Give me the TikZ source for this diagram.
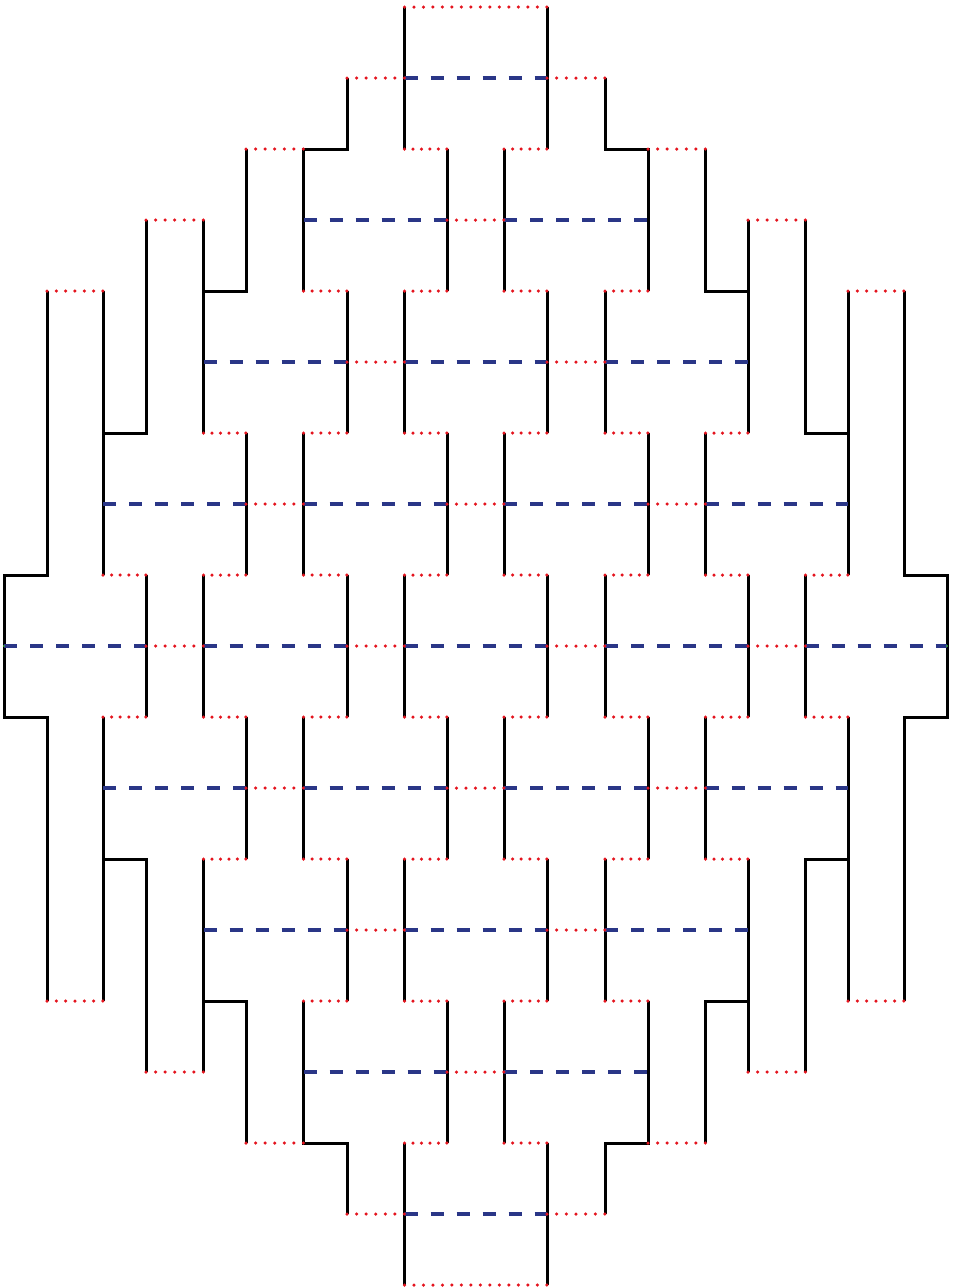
\documentclass[tikz,border=0pt]{standalone}
\definecolor{cpblue}{RGB}{42,54,135}
\definecolor{cpred}{RGB}{228,20,30}
\definecolor{cpgreen}{RGB}{60,170,60}
\begin{document}
\begin{tikzpicture}[x=0.5pt,y=-0.5pt,
  fold/.style={black,line width=1.5pt,line join=miter},
  valley/.style={cpblue,line width=1.6pt,dash pattern=on 6.6pt off 6.4pt},
  mnt/.style={cpred,line width=1.75pt,line cap=round}]
\useasboundingbox (0,0) rectangle (953,1287);
\foreach \x [count=\i from 0] in {4,47,103,146,203.5,246,303.5,347,404.5,447,504,547,605,648,705.5,748,805.5,848,904,947}{
  \expandafter\xdef\csname cpx\i\endcsname{\x}
  \foreach \j in {0,...,18}{\coordinate (p\i-\j) at (\x,{7+71*\j});}}
% black outline corners
\draw[fold] (p7-1)--(p7-2)--(p6-2)--(p6-4);
\draw[fold] (p5-2)--(p5-4)--(p4-4);
\draw[fold] (p3-3)--(p3-6)--(p2-6);
\draw[fold] (p1-4)--(p1-8)--(p0-8)--(p0-10)--(p1-10)--(p1-14);
\draw[fold] (p2-12)--(p3-12)--(p3-15);
\draw[fold] (p4-14)--(p5-14)--(p5-16);
\draw[fold] (p6-14)--(p6-16)--(p7-16)--(p7-17);
\draw[fold] (p12-1)--(p12-2)--(p13-2)--(p13-4);
\draw[fold] (p14-2)--(p14-4)--(p15-4);
\draw[fold] (p16-3)--(p16-6)--(p17-6);
\draw[fold] (p18-4)--(p18-8)--(p19-8)--(p19-10)--(p18-10)--(p18-14);
\draw[fold] (p17-12)--(p16-12)--(p16-15);
\draw[fold] (p15-14)--(p14-14)--(p14-16);
\draw[fold] (p13-14)--(p13-16)--(p12-16)--(p12-17);
% black verticals
\foreach \c/\a/\b in {2/4/8, 2/10/14, 3/8/10, 4/3/6, 4/8/10, 4/12/15, 5/6/8, 5/10/12, 6/6/8, 6/10/12,
  7/4/6, 7/8/10, 7/12/14, 8/0/2, 8/4/6, 8/8/10, 8/12/14, 8/16/18, 9/2/4, 9/6/8, 9/10/12, 9/14/16,
  10/2/4, 10/6/8, 10/10/12, 10/14/16, 11/0/2, 11/4/6, 11/8/10, 11/12/14, 11/16/18,
  12/4/6, 12/8/10, 12/12/14, 13/6/8, 13/10/12, 14/6/8, 14/10/12, 15/3/6, 15/8/10, 15/12/15,
  16/8/10, 17/4/8, 17/10/14}
  {\draw[fold] (p\c-\a)--(p\c-\b);}
% blue dashed
\foreach \a/\b/\r in {8/11/1, 6/9/3, 10/13/3, 4/7/5, 8/11/5, 12/15/5, 2/5/7, 6/9/7, 10/13/7, 14/17/7,
  0/3/9, 4/7/9, 8/11/9, 12/15/9, 16/19/9, 2/5/11, 6/9/11, 10/13/11, 14/17/11,
  4/7/13, 8/11/13, 12/15/13, 6/9/15, 10/13/15, 8/11/17}
  {\draw[valley] (p\a-\r)--(p\b-\r);}
% red dotted
\foreach \a/\b/\r in {8/11/0, 7/8/1, 11/12/1, 5/6/2, 8/9/2, 10/11/2, 13/14/2, 3/4/3, 9/10/3, 15/16/3,
  1/2/4, 6/7/4, 8/9/4, 10/11/4, 12/13/4, 17/18/4, 7/8/5, 11/12/5,
  4/5/6, 6/7/6, 8/9/6, 10/11/6, 12/13/6, 14/15/6, 5/6/7, 9/10/7, 13/14/7,
  2/3/8, 4/5/8, 6/7/8, 8/9/8, 10/11/8, 12/13/8, 14/15/8, 16/17/8}
  {\pgfmathsetmacro\len{(\csname cpx\b\endcsname-\csname cpx\a\endcsname)*0.5}
   \pgfmathsetmacro\gap{\len/max(1,round(\len/4.65))-0.002}
   \pgfmathtruncatemacro\rr{18-\r}
   \draw[mnt, dash pattern=on 0pt off \gap pt] (p\a-\r)--(p\b-\r);
   \draw[mnt, dash pattern=on 0pt off \gap pt] (p\a-\rr)--(p\b-\rr);}
\foreach \a/\b in {3/4, 7/8, 11/12, 15/16}
  {\pgfmathsetmacro\len{(\csname cpx\b\endcsname-\csname cpx\a\endcsname)*0.5}
   \pgfmathsetmacro\gap{\len/max(1,round(\len/4.65))-0.002}
   \draw[mnt, dash pattern=on 0pt off \gap pt] (p\a-9)--(p\b-9);}
% small green end marks
\fill[cpgreen] (p0-9) circle (1.2);
\fill[cpgreen] (p19-9) circle (1.2);
\end{tikzpicture}
\end{document}
